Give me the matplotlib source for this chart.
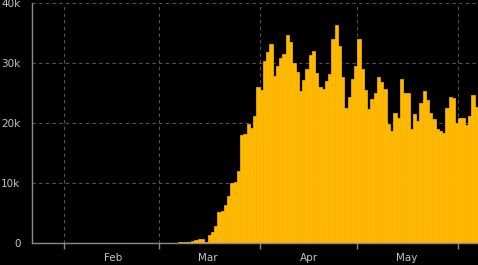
import matplotlib
matplotlib.use('Agg')
import matplotlib.pyplot as plt
import matplotlib.dates as mdates
import pandas as pd

# daily new cases, one value per day starting 2020-01-22
start_date = '2020-01-22'
daily_cases = [
    1, 0, 1, 0, 3, 0, 0, 0, 0, 2,
    1, 0, 3, 0, 0, 0, 0, 0, 1, 0,
    0, 0, 1, 0, 0, 0, 0, 0, 0, 0,
    0, 0, 0, 0, 0, 0, 6, 1, 6,
    25, 20, 30, 60, 50, 70, 150, 140, 100, 170,
    330, 500, 650, 700, 200, 1330, 1830, 2830, 5170, 5330,
    6330, 7830, 10000, 10170, 12000, 18000, 18170, 19830, 19170, 21170,
    26000, 25500, 30330, 31830, 33170, 27830, 29500, 30830, 31500, 34670,
    33500, 30000, 28500, 25330, 27170, 29000, 31330, 32000, 28330, 26000,
    25670, 27000, 28170, 34000, 36330, 32830, 27670, 22500, 24330, 27330,
    29500, 34000, 29000, 25500, 22330, 24000, 25000, 27670, 26830, 25670,
    19830, 18670, 21670, 20830, 27330, 25000, 25000, 19000, 21500, 20330,
    23330, 25330, 23830, 21670, 20670, 19000, 18670, 18330, 22500, 24330,
    24170, 20000, 20830, 20830, 19670, 21170, 24670, 22670,
]
month_starts = ['2020-02-01', '2020-03-01', '2020-04-01', '2020-05-01', '2020-06-01']
month_label_days = ['2020-02-16', '2020-03-16', '2020-04-16', '2020-05-16']
month_labels = ['Feb', 'Mar', 'Apr', 'May']
y_ticks = [0, 10000, 20000, 30000, 40000]
y_labels = ['0', '10k', '20k', '30k', '40k']

dates = pd.date_range(start_date, periods=len(daily_cases), freq='D')
bar_color = '#ffb900'
axis_gray = '#8a8a8a'
text_gray = '#c4c4c4'

fig = plt.figure(figsize=(4.78, 2.65), dpi=100, facecolor='black')
ax = fig.add_axes([0.066, 0.083, 0.934, 0.906], facecolor='black')

ax.bar(mdates.date2num(dates), daily_cases, width=1.0, align='edge',
       color=bar_color, edgecolor=bar_color, linewidth=0.5, zorder=2)

ax.set_xlim(mdates.date2num(dates[0]), mdates.date2num(dates[-1]) + 1)
ax.set_ylim(0, 40000)

ax.set_xticks(mdates.date2num(pd.to_datetime(month_starts)))
ax.set_xticklabels([])
ax.set_xticks(mdates.date2num(pd.to_datetime(month_label_days)), minor=True)
ax.set_xticklabels(month_labels, minor=True)
ax.set_yticks(y_ticks)
ax.set_yticklabels(y_labels)

ax.tick_params(axis='x', which='major', length=4, width=1, color=axis_gray, direction='out')
ax.tick_params(axis='x', which='minor', length=0, pad=7, labelsize=7.5, labelcolor=text_gray)
ax.tick_params(axis='y', length=0, pad=8, labelsize=7.5, labelcolor=text_gray)

ax.set_axisbelow(True)
ax.grid(True, which='major', color='#555555', linestyle=(0, (3, 3)), linewidth=0.8)

for side in ['top', 'right']:
    ax.spines[side].set_visible(False)
for side in ['left', 'bottom']:
    ax.spines[side].set_color(axis_gray)
    ax.spines[side].set_linewidth(1)

fig.savefig('out.png', dpi=100, facecolor='black')
